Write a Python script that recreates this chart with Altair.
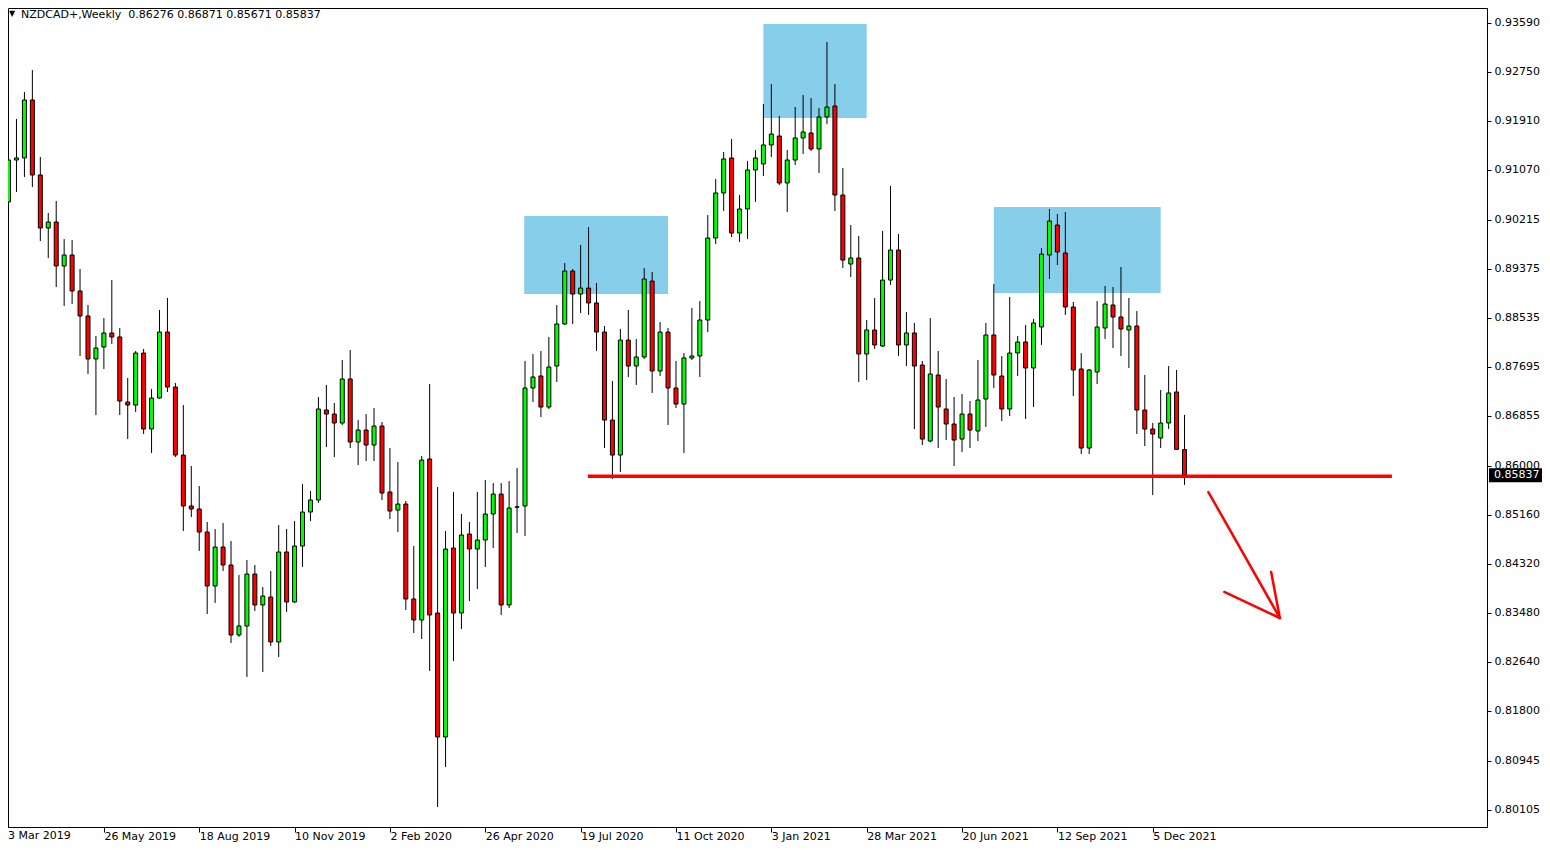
import altair as alt
import pandas as pd

# ---- weekly NZDCAD candles (index 0 = week of 3 Mar 2019) ----
opens = [0.90521, 0.91241, 0.91276, 0.92270, 0.90984, 0.90075, 0.90178, 0.89424, 0.89612, 0.88995,
         0.88567, 0.87830, 0.88035, 0.88275, 0.88207, 0.87092, 0.87040, 0.87932, 0.86629, 0.87161,
         0.88292, 0.87349, 0.86183, 0.85309, 0.85258, 0.84863, 0.83938, 0.84606, 0.84298, 0.83098,
         0.83252, 0.84143, 0.83612, 0.83749, 0.82978, 0.84521, 0.83664, 0.84623, 0.85206, 0.85412,
         0.86955, 0.86886, 0.86732, 0.87487, 0.86406, 0.86612, 0.86355, 0.86680, 0.85549, 0.85240,
         0.85343, 0.83715, 0.83355, 0.86115, 0.83475, 0.81349, 0.84589, 0.83475, 0.84829, 0.84572,
         0.84726, 0.85172, 0.85514, 0.83612, 0.85295, 0.85309, 0.87332, 0.87538, 0.87006, 0.87709,
         0.88430, 0.89338, 0.88943, 0.89046, 0.88790, 0.88292, 0.86783, 0.86183, 0.88155, 0.87709,
         0.87864, 0.89166, 0.87624, 0.88292, 0.87332, 0.87057, 0.87847, 0.87881, 0.88498, 0.89904,
         0.90676, 0.91276, 0.89989, 0.90401, 0.91070, 0.91173, 0.91499, 0.91653, 0.90847, 0.91241,
         0.91619, 0.91704, 0.91430, 0.91979, 0.92167, 0.90641, 0.89458, 0.89561, 0.87915, 0.88327,
         0.88052, 0.89183, 0.89698, 0.88070, 0.88275, 0.87726, 0.86423, 0.87555, 0.86972, 0.86715,
         0.86457, 0.86886, 0.86595, 0.87143, 0.88241, 0.87538, 0.86972, 0.87932, 0.88121, 0.87675,
         0.88378, 0.89612, 0.90126, 0.89647, 0.88721, 0.87658, 0.86303, 0.87607, 0.88361, 0.88755,
         0.88550, 0.88327, 0.88395, 0.86955, 0.86629, 0.86475, 0.86732, 0.87264, 0.86276]
highs = [0.91396, 0.91944, 0.92407, 0.92784, 0.91293, 0.90332, 0.90538, 0.89886, 0.89869, 0.89372,
         0.88755, 0.88224, 0.88532, 0.89183, 0.88361, 0.87504, 0.87967, 0.88001, 0.87315, 0.88670,
         0.88875, 0.87418, 0.87040, 0.85995, 0.85652, 0.85035, 0.84915, 0.85018, 0.84709, 0.84126,
         0.84383, 0.84298, 0.83920, 0.84195, 0.84983, 0.84915, 0.85052, 0.85686, 0.85566, 0.87178,
         0.87384, 0.87075, 0.87812, 0.87984, 0.86783, 0.86886, 0.86989, 0.86749, 0.86303, 0.86063,
         0.85395, 0.84623, 0.86166, 0.87401, 0.85634, 0.84881, 0.85549, 0.85172, 0.85035, 0.85549,
         0.85754, 0.85703, 0.85703, 0.85737, 0.85960, 0.87795, 0.87915, 0.87967, 0.88207, 0.88755,
         0.89475, 0.89372, 0.89784, 0.90092, 0.89132, 0.88395, 0.87452, 0.88344, 0.88670, 0.88172,
         0.89389, 0.89321, 0.88464, 0.88361, 0.87795, 0.87932, 0.88704, 0.88824, 0.90298, 0.90916,
         0.91379, 0.91601, 0.90641, 0.91224, 0.91413, 0.92201, 0.92544, 0.91996, 0.91413, 0.92150,
         0.92355, 0.92304, 0.92133, 0.93264, 0.92544, 0.91104, 0.90126, 0.89938, 0.88498, 0.88875,
         0.90024, 0.90796, 0.89972, 0.88635, 0.88447, 0.87795, 0.88532, 0.87967, 0.87487, 0.87178,
         0.87229, 0.87109, 0.87812, 0.88447, 0.89115, 0.87881, 0.88892, 0.88224, 0.88413, 0.88515,
         0.89732, 0.90401, 0.90315, 0.90349, 0.88807, 0.87932, 0.87658, 0.88824, 0.89081, 0.89063,
         0.89406, 0.88875, 0.88652, 0.87555, 0.86732, 0.87298, 0.87709, 0.87641, 0.86871]
lows = [0.90264, 0.90693, 0.90950, 0.90778, 0.89852, 0.89561, 0.89063, 0.88738, 0.88772, 0.87881,
        0.87572, 0.86869, 0.87658, 0.88087, 0.86869, 0.86457, 0.86920, 0.86543, 0.86217, 0.87150,
        0.87264, 0.86149, 0.84881, 0.85121, 0.84538, 0.83458, 0.83647, 0.84195, 0.82961, 0.83064,
        0.82378, 0.83509, 0.82464, 0.82909, 0.82721, 0.83492, 0.83647, 0.84263, 0.85052, 0.85361,
        0.86320, 0.86149, 0.86697, 0.86303, 0.86012, 0.86080, 0.86080, 0.85412, 0.85086, 0.84863,
        0.83527, 0.83132, 0.83029, 0.82481, 0.80149, 0.80834, 0.82652, 0.83201, 0.83681, 0.83886,
        0.84263, 0.84589, 0.83441, 0.83561, 0.84846, 0.84795, 0.87092, 0.86835, 0.86972, 0.87435,
        0.88413, 0.88430, 0.88618, 0.88584, 0.87967, 0.86303, 0.85772, 0.85892, 0.87521, 0.87384,
        0.87830, 0.87247, 0.87538, 0.86697, 0.86989, 0.86217, 0.87812, 0.87521, 0.88292, 0.89801,
        0.90366, 0.89921, 0.89835, 0.89886, 0.90521, 0.90967, 0.91293, 0.90813, 0.90349, 0.91156,
        0.91344, 0.91396, 0.91018, 0.91859, 0.90366, 0.89389, 0.89235, 0.87435, 0.87469, 0.88001,
        0.88035, 0.89098, 0.87881, 0.87709, 0.86629, 0.86355, 0.86400, 0.86303, 0.86440, 0.85995,
        0.86235, 0.86303, 0.86423, 0.86663, 0.87332, 0.86766, 0.86852, 0.87538, 0.86800, 0.87006,
        0.88070, 0.89201, 0.89441, 0.88584, 0.87195, 0.86200, 0.86200, 0.87401, 0.88172, 0.88018,
        0.87881, 0.87675, 0.86543, 0.86337, 0.85497, 0.86303, 0.86629, 0.86270, 0.85671]
closes = [0.91241, 0.91276, 0.92270, 0.90984, 0.90075, 0.90178, 0.89424, 0.89612, 0.88995, 0.88567,
          0.87830, 0.88018, 0.88275, 0.88207, 0.87109, 0.87040, 0.87932, 0.86629, 0.87161, 0.88292,
          0.87349, 0.86183, 0.85309, 0.85258, 0.84863, 0.83938, 0.84606, 0.84298, 0.83098, 0.83252,
          0.84143, 0.83612, 0.83766, 0.82978, 0.84521, 0.83664, 0.84623, 0.85206, 0.85412, 0.86972,
          0.86886, 0.86732, 0.87487, 0.86406, 0.86612, 0.86355, 0.86680, 0.85532, 0.85223, 0.85343,
          0.83715, 0.83355, 0.86097, 0.83441, 0.81349, 0.84572, 0.83475, 0.84812, 0.84572, 0.84726,
          0.85172, 0.85514, 0.83612, 0.85275, 0.85288, 0.87332, 0.87521, 0.87006, 0.87692, 0.88430,
          0.89338, 0.88943, 0.89046, 0.88790, 0.88292, 0.86783, 0.86183, 0.88155, 0.87709, 0.87864,
          0.89201, 0.87624, 0.88292, 0.87332, 0.87057, 0.87847, 0.87881, 0.88498, 0.89904, 0.90676,
          0.91259, 0.89989, 0.90401, 0.91070, 0.91276, 0.91499, 0.91687, 0.90847, 0.91241, 0.91619,
          0.91721, 0.91430, 0.91979, 0.92150, 0.90641, 0.89526, 0.89561, 0.87915, 0.88327, 0.88070,
          0.89183, 0.89698, 0.88070, 0.88275, 0.87709, 0.86457, 0.87572, 0.87006, 0.86715, 0.86440,
          0.86886, 0.86612, 0.87126, 0.88241, 0.87555, 0.86972, 0.87932, 0.88121, 0.87675, 0.88447,
          0.89629, 0.90195, 0.89664, 0.88721, 0.87641, 0.86303, 0.87641, 0.88378, 0.88772, 0.88550,
          0.88344, 0.88395, 0.86955, 0.86629, 0.86543, 0.86732, 0.87247, 0.86280, 0.85837]

week_labels = ["3 Mar 2019", "26 May 2019", "18 Aug 2019", "10 Nov 2019", "2 Feb 2020",
               "26 Apr 2020", "19 Jul 2020", "11 Oct 2020", "3 Jan 2021", "28 Mar 2021",
               "20 Jun 2021", "12 Sep 2021", "5 Dec 2021"]
label_step = 12  # weeks between date labels

price_ticks = [0.93590, 0.92750, 0.91910, 0.91070, 0.90215, 0.89375, 0.88535, 0.87695, 0.86855,
               0.86000, 0.85160, 0.84320, 0.83480, 0.82640, 0.81800, 0.80945, 0.80105]

# supply / head zones (bar index span, price span)
zone_x1 = [64.9, 95.0, 124.0]
zone_x2 = [83.0, 108.0, 145.0]
zone_lo = [0.88943, 0.91961, 0.88960]
zone_hi = [0.90281, 0.93573, 0.90435]

neck_x = [72.9, 174.1]
neck_price = 0.85820

arrow_x1 = [151.0, 153.0, 158.9]
arrow_y1 = [0.85549, 0.83835, 0.84178]
arrow_x2 = [160.0, 160.0, 160.0]
arrow_y2 = [0.83389, 0.83389, 0.83389]

header = "NZDCAD+,Weekly\u00a0 0.86276 0.86871 0.85671 0.85837"
last_close = closes[-1]

# ---- tables ----
n = len(opens)
candles = pd.DataFrame({
    "i": list(range(n)), "open": opens, "high": highs, "low": lows, "close": closes,
    "dir": ["up" if c >= o else "down" for o, c in zip(opens, closes)],
})
zones = pd.DataFrame({"x1": zone_x1, "x2": zone_x2, "lo": zone_lo, "hi": zone_hi})
neck = pd.DataFrame({"x1": [neck_x[0]], "x2": [neck_x[1]], "p": [neck_price]})
arrow = pd.DataFrame({"x1": arrow_x1, "y1": arrow_y1, "x2": arrow_x2, "y2": arrow_y2})

W, H = 1479, 819
FONT = "DejaVu Sans"

xscale = alt.Scale(domain=[0.5625, 185.4375], nice=False, zero=False)
yscale = alt.Scale(domain=[0.79806, 0.93847], nice=False, zero=False)

label_expr = "[" + ",".join("'%s'" % s for s in week_labels) + "][round(datum.value / %d)]" % label_step
xaxis = alt.Axis(values=[label_step * k for k in range(1, len(week_labels))], labelExpr=label_expr,
                 labelAlign="left", labelBaseline="middle", labelPadding=4, tickSize=5,
                 labelFont=FONT, labelFontSize=11, labelColor="black", tickColor="black",
                 domainColor="black", grid=False, title=None, labelOverlap=False, labelFlush=False)
yaxis = alt.Axis(orient="right", values=price_ticks, format=".5f", tickSize=4, labelPadding=3,
                 labelFont=FONT, labelFontSize=11, labelColor="black", tickColor="black",
                 domainColor="black", grid=False, title=None, labelOverlap=False, labelFlush=False)

X = lambda f: alt.X(f, type="quantitative", scale=xscale, axis=xaxis)
Y = lambda f: alt.Y(f, type="quantitative", scale=yscale, axis=yaxis)

zone_layer = alt.Chart(zones).mark_rect(color="#87CEEB", opacity=1).encode(
    x=X("x1"), x2="x2", y=Y("lo"), y2="hi")

wick_layer = alt.Chart(candles).mark_rule(color="black", strokeWidth=1).encode(
    x=X("i"), y=Y("low"), y2="high")

body_layer = alt.Chart(candles).mark_bar(size=4, stroke="black", strokeWidth=1, opacity=1).encode(
    x=X("i"), y=Y("open"), y2="close",
    color=alt.Color("dir:N", scale=alt.Scale(domain=["up", "down"], range=["#00ff00", "#ff0000"]),
                    legend=None))

neck_layer = alt.Chart(neck).mark_rule(color="#ff0000", strokeWidth=3.5).encode(
    x=X("x1"), x2="x2", y=Y("p"))

arrow_layer = alt.Chart(arrow).mark_rule(color="#ff0000", strokeWidth=2.5, strokeCap="round").encode(
    x=X("x1"), x2="x2", y=Y("y1"), y2="y2")

text_df = pd.DataFrame({"t": [header]})
header_layer = alt.Chart(text_df).mark_text(
    align="left", baseline="middle", font=FONT, fontSize=11, color="black").encode(
    text="t:N", x=alt.value(13), y=alt.value(7))
tri_layer = alt.Chart(pd.DataFrame({"t": ["\u25bc"]})).mark_text(
    align="center", baseline="middle", font=FONT, fontSize=8, color="black").encode(
    text="t:N", x=alt.value(4), y=alt.value(6))

first_label = alt.Chart(pd.DataFrame({"t": [week_labels[0]]})).mark_text(
    align="left", baseline="middle", font=FONT, fontSize=11, color="black").encode(
    text="t:N", x=alt.value(0), y=alt.value(H + 9))

box_df = pd.DataFrame({"p": [last_close], "hi": [last_close + 0.0012], "lo": [last_close - 0.0012],
                       "t": ["%.5f" % last_close]})
box_layer = alt.Chart(box_df).mark_rect(color="black").encode(
    x=alt.value(W + 2), x2=alt.value(W + 55), y=Y("hi"), y2="lo")
box_text = alt.Chart(box_df).mark_text(
    align="left", baseline="middle", font=FONT, fontSize=11, color="white").encode(
    text="t:N", x=alt.value(W + 7), y=Y("p"))

chart = alt.layer(
    zone_layer, wick_layer, body_layer, neck_layer, arrow_layer,
    header_layer, tri_layer, first_label, box_layer, box_text
).properties(
    width=W, height=H,
    autosize=alt.AutoSizeParams(type="none"),
    padding={"left": 0, "top": 0, "right": 55, "bottom": 15},
    background="white",
).configure_view(stroke="black", strokeWidth=1)

chart.save("out.html", embed_options={"renderer": "svg", "actions": False})
